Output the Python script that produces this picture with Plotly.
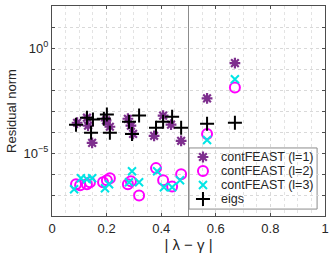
import plotly.graph_objects as go
import numpy as np

# contFEAST (l=1)
x1 = [0.092, 0.128, 0.132, 0.147, 0.198, 0.212, 0.278, 0.289, 0.297, 0.374, 0.407, 0.436, 0.473, 0.568, 0.670]
e1 = [-3.56, -3.32, -3.70, -4.52, -3.45, -3.75, -3.37, -3.70, -4.09, -4.18, -3.22, -3.65, -4.42, -2.40, -0.72]
# contFEAST (l=2)
x2 = [0.088, 0.103, 0.128, 0.139, 0.187, 0.201, 0.212, 0.278, 0.289, 0.319, 0.381, 0.407, 0.440, 0.473, 0.568, 0.670]
e2 = [-6.49, -6.54, -6.49, -6.39, -6.39, -6.30, -6.20, -6.49, -6.35, -7.02, -5.72, -6.30, -6.59, -6.01, -4.09, -1.88]
# contFEAST (l=3)
x3 = [0.081, 0.106, 0.128, 0.147, 0.194, 0.209, 0.282, 0.293, 0.319, 0.385, 0.410, 0.440, 0.469, 0.568, 0.670]
e3 = [-6.73, -6.20, -6.25, -6.20, -6.68, -6.49, -6.39, -5.87, -6.39, -5.87, -6.63, -6.63, -6.30, -4.38, -1.49]
# eigs
x4 = [0.088, 0.128, 0.150, 0.143, 0.190, 0.201, 0.212, 0.282, 0.293, 0.319, 0.381, 0.407, 0.440, 0.473, 0.568, 0.670]
e4 = [-3.65, -3.32, -3.41, -4.04, -3.37, -3.17, -4.04, -3.51, -4.09, -3.22, -3.80, -3.51, -3.27, -3.80, -3.61, -3.56]

names = ["contFEAST (l=1)", "contFEAST (l=2)", "contFEAST (l=3)", "eigs"]

y_decades = list(range(-8, 3))
y_labels = {0: "10<sup>0</sup>", -5: "10<sup>\u22125</sup>"}
x_ticks = [0, 0.2, 0.4, 0.6, 0.8, 1]
x_ticklabels = ["0", "0.2", "0.4", "0.6", "0.8", "1"]

markers = [
    dict(symbol="asterisk-open", size=9, color="#7E2F8E", line=dict(color="#7E2F8E", width=2.2)),
    dict(symbol="circle-open", size=10, color="#FF00FF", line=dict(color="#FF00FF", width=2)),
    dict(symbol="x-thin-open", size=8, color="#00E5E5", line=dict(color="#00E5E5", width=2)),
    dict(symbol="cross-thin-open", size=10, color="black", line=dict(color="black", width=2)),
]

def pw(e):
    return [10 ** v for v in e]

fig = go.Figure()
for xs, es, nm, mk in zip([x1, x2, x3, x4], [e1, e2, e3, e4], names, markers):
    fig.add_trace(go.Scatter(x=xs, y=pw(es), mode="markers", name=nm, marker=mk,
                             showlegend=False))

fig.add_vline(x=0.5, line=dict(color="#8c8c8c", width=1))

# --- legend drawn in plot-area fraction coordinates (overlay axes 0..1) ---
leg_x0, leg_x1, leg_y0, leg_y1 = 0.502, 0.971, 0.033, 0.324
leg_rows = [0.281, 0.214, 0.148, 0.081]
leg_sym_x = 0.553
leg_txt_x = 0.612
fig.add_shape(type="rect", xref="paper", yref="paper", x0=leg_x0, x1=leg_x1, y0=leg_y0, y1=leg_y1,
              fillcolor="white", line=dict(color="#8c8c8c", width=1), layer="between")
for ry, nm, mk in zip(leg_rows, names, markers):
    fig.add_trace(go.Scatter(x=[leg_sym_x], y=[ry], xaxis="x2", yaxis="y2", mode="markers",
                             marker=mk, showlegend=False, hoverinfo="skip"))
    fig.add_annotation(x=leg_txt_x, y=ry, xref="paper", yref="paper", text=nm, showarrow=False,
                       xanchor="left", yanchor="middle", font=dict(size=12.5, color="#262626"))

axis_common = dict(showline=True, linecolor="#4d4d4d", linewidth=1, mirror="ticks",
                   ticks="inside", ticklen=3, tickcolor="#4d4d4d", automargin=False,
                   gridcolor="#d9d9d9", griddash="dot", gridwidth=1, zeroline=False,
                   tickfont=dict(size=13))

fig.update_xaxes(range=[0, 1], tickvals=x_ticks, ticktext=x_ticklabels,
                 ticklabeloverflow="allow",
                 minor=dict(dtick=0.05, showgrid=True, gridcolor="#e3e3e3", griddash="dot", ticks=""),
                 title=dict(text="| \u03bb \u2212 \u03b3 |", font=dict(size=15), standoff=2),
                 **axis_common)
fig.update_yaxes(type="log", range=[-8, 2],
                 tickvals=[10 ** d for d in y_decades],
                 ticktext=[y_labels.get(d, " ") for d in y_decades],
                 title=dict(text="Residual norm", font=dict(size=13), standoff=4),
                 **axis_common)

fig.update_layout(width=333, height=256, margin=dict(l=52, r=8, t=6, b=40),
                  paper_bgcolor="white", plot_bgcolor="white",
                  font=dict(family="Liberation Sans, Arial, sans-serif", size=12, color="#262626"),
                  showlegend=False,
                  xaxis2=dict(overlaying="x", range=[0, 1], visible=False),
                  yaxis2=dict(overlaying="y", range=[0, 1], visible=False))

fig.write_html("out.html", config={"displayModeBar": False},
               post_script="document.body.style.margin='0';")
